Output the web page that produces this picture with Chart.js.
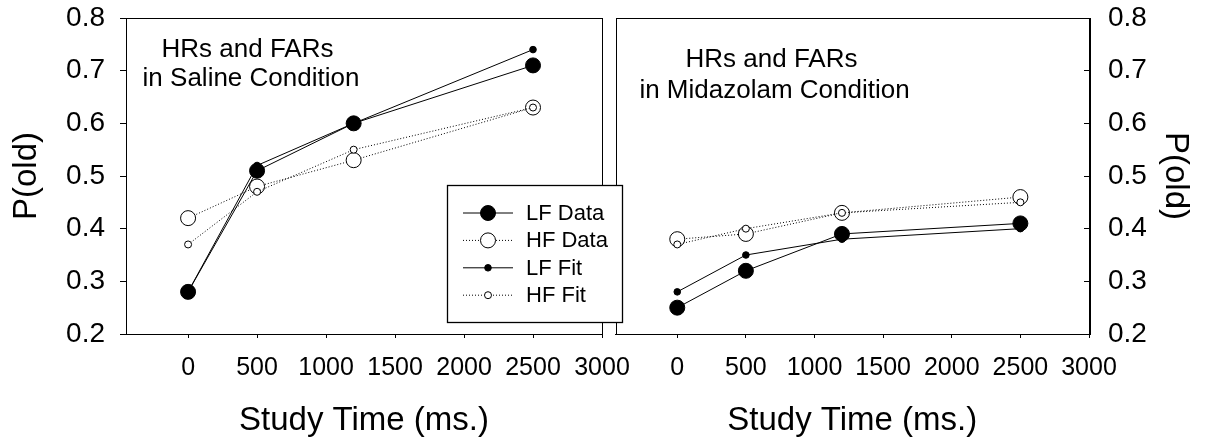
<!DOCTYPE html>
<html>
<head>
<meta charset="utf-8">
<script src="https://cdn.jsdelivr.net/npm/chart.js@4"></script>
<style>
  html, body { margin: 0; padding: 0; background: #fff; }
  #wrap { position: relative; width: 1209px; height: 442px; overflow: hidden; }
  #saline { position: absolute; left: 0; top: 0; z-index: 2; }
  #midaz { position: absolute; left: 607px; top: 0; z-index: 1; }
</style>
</head>
<body>
<div id="wrap">
  <canvas id="saline" width="640" height="442"></canvas>
  <canvas id="midaz" width="602" height="442"></canvas>
</div>
<script>
// study time conditions (ms)
const studyTimes = [0, 500, 1200, 2500];

// Saline condition
const salineLFData = [0.28, 0.51, 0.60, 0.71];
const salineHFData = [0.42, 0.48, 0.53, 0.63];
const salineLFFit  = [0.28, 0.52, 0.60, 0.74];
const salineHFFit  = [0.37, 0.47, 0.55, 0.63];

// Midazolam condition
const midazLFData = [0.25, 0.32, 0.39, 0.41];
const midazHFData = [0.38, 0.39, 0.43, 0.46];
const midazLFFit  = [0.28, 0.35, 0.38, 0.40];
const midazHFFit  = [0.37, 0.40, 0.43, 0.45];

// axis ticks
const xTicks = [0, 500, 1000, 1500, 2000, 2500, 3000];
const yTicks = [0.2, 0.3, 0.4, 0.5, 0.6, 0.7, 0.8];

const seriesNames = ['LF Data', 'HF Data', 'LF Fit', 'HF Fit'];

const FONT = "'Liberation Sans', Arial, sans-serif";

// look of each series (shared by plot and legend)
const styles = {
  'LF Data': { dash: [], radius: 7.5, fill: '#000' },
  'HF Data': { dash: [1, 2], radius: 7.5, fill: '#fff' },
  'LF Fit':  { dash: [], radius: 3.3, fill: '#000' },
  'HF Fit':  { dash: [1, 2], radius: 3.5, fill: '#fff' }
};

function makeSet(name, values) {
  const s = styles[name];
  return {
    label: name,
    data: studyTimes.map((t, i) => ({ x: t, y: values[i] })),
    borderColor: '#000',
    borderWidth: 1,
    borderDash: s.dash,
    pointRadius: s.radius,
    pointBackgroundColor: s.fill,
    pointBorderColor: '#000',
    pointBorderWidth: 1,
    tension: 0,
    fill: false
  };
}

// frame around the plot area + the two-line caption
function panelPlugin(lines) {
  return {
    id: 'panel',
    afterDraw(chart) {
      const { ctx, chartArea: a } = chart;
      ctx.save();
      ctx.strokeStyle = '#000';
      ctx.lineWidth = 1;
      ctx.strokeRect(Math.round(a.left) + 0.5, Math.round(a.top) + 0.5,
                     Math.round(a.right - a.left), Math.round(a.bottom - a.top));
      ctx.fillStyle = '#000';
      ctx.font = '26px ' + FONT;
      ctx.textAlign = 'center';
      ctx.textBaseline = 'middle';
      lines.forEach(l => ctx.fillText(l.text, a.left + l.dx, a.top + l.dy));
      ctx.restore();
    }
  };
}

// boxed legend, drawn on top of the left panel (it spills over the gap)
const legendPlugin = {
  id: 'boxLegend',
  afterDraw(chart) {
    const { ctx } = chart;
    const box = { x: 447.5, y: 185.5, w: 175, h: 137 };
    ctx.save();
    ctx.fillStyle = '#fff';
    ctx.fillRect(box.x, box.y, box.w, box.h);
    ctx.strokeStyle = '#000';
    ctx.lineWidth = 1.3;
    ctx.strokeRect(box.x, box.y, box.w, box.h);
    ctx.font = '22px ' + FONT;
    ctx.textBaseline = 'middle';
    ctx.textAlign = 'left';
    seriesNames.forEach((name, i) => {
      const s = styles[name];
      const y = 213 + i * 27.4;
      ctx.lineWidth = 1;
      ctx.setLineDash(s.dash);
      ctx.beginPath();
      ctx.moveTo(463, y);
      ctx.lineTo(513, y);
      ctx.stroke();
      ctx.setLineDash([]);
      ctx.beginPath();
      ctx.arc(488, y, s.radius, 0, Math.PI * 2);
      ctx.fillStyle = s.fill;
      ctx.fill();
      ctx.stroke();
      ctx.fillStyle = '#000';
      ctx.fillText(name, 526, y + 1);
    });
    ctx.restore();
  }
};

function xScale() {
  return {
    type: 'linear',
    min: -450,
    max: 3000,
    afterBuildTicks: s => { s.ticks = xTicks.map(v => ({ value: v })); },
    afterFit: s => { s.height = 108; s.paddingLeft = 0; s.paddingRight = 0; },
    grid: { drawOnChartArea: false, color: '#000', lineWidth: 1, tickLength: 4 },
    border: { display: true, color: '#000', width: 1 },
    ticks: {
      autoSkip: false, maxRotation: 0, padding: 15, color: '#000',
      font: { family: FONT, size: 25 },
      callback: v => String(v)
    },
    title: {
      display: true, text: 'Study Time (ms.)', color: '#000',
      font: { family: FONT, size: 33 }, padding: { top: 0, bottom: 1 }
    }
  };
}

function yScale(pos) {
  const right = pos === 'right';
  return {
    type: 'linear',
    position: pos,
    min: 0.2,
    max: 0.8,
    afterBuildTicks: s => { s.ticks = yTicks.map(v => ({ value: v })); },
    afterFit: s => { s.width = right ? 120 : 126; s.paddingTop = 0; s.paddingBottom = 0; },
    grid: { drawOnChartArea: false, color: '#000', lineWidth: 1, tickLength: right ? -5 : 6 },
    border: { display: true, color: '#000', width: 1 },
    ticks: {
      autoSkip: false, padding: right ? 24 : 15, color: '#000',
      font: { family: FONT, size: 28 },
      callback: v => v.toFixed(1)
    },
    title: {
      display: true, text: 'P(old)', color: '#000',
      font: { family: FONT, size: 33 }, padding: { top: right ? 14 : 7, bottom: 0 }
    }
  };
}

function baseOptions(pos, padding) {
  return {
    responsive: false,
    animation: false,
    devicePixelRatio: 1,
    layout: { padding: padding },
    plugins: { legend: { display: false }, tooltip: { enabled: false } },
    scales: { x: xScale(), y: yScale(pos) }
  };
}

// fits first so they sit on top of the data markers
new Chart(document.getElementById('midaz'), {
  type: 'line',
  data: {
    datasets: [
      makeSet('LF Fit', midazLFFit),
      makeSet('HF Fit', midazHFFit),
      makeSet('LF Data', midazLFData),
      makeSet('HF Data', midazHFData)
    ]
  },
  options: baseOptions('right', { left: 6, top: 18, right: 0, bottom: 0 }),
  plugins: [panelPlugin([
    { text: 'HRs and FARs', dx: 156, dy: 42 },
    { text: 'in Midazolam Condition', dx: 159, dy: 72.5 }
  ])]
});

new Chart(document.getElementById('saline'), {
  type: 'line',
  data: {
    datasets: [
      makeSet('LF Fit', salineLFFit),
      makeSet('HF Fit', salineHFFit),
      makeSet('LF Data', salineLFData),
      makeSet('HF Data', salineHFData)
    ]
  },
  options: baseOptions('left', { left: 0, top: 18, right: 38, bottom: 0 }),
  plugins: [panelPlugin([
    { text: 'HRs and FARs', dx: 121.5, dy: 32 },
    { text: 'in Saline Condition', dx: 125, dy: 61 }
  ]), legendPlugin]
});
</script>
</body>
</html>
